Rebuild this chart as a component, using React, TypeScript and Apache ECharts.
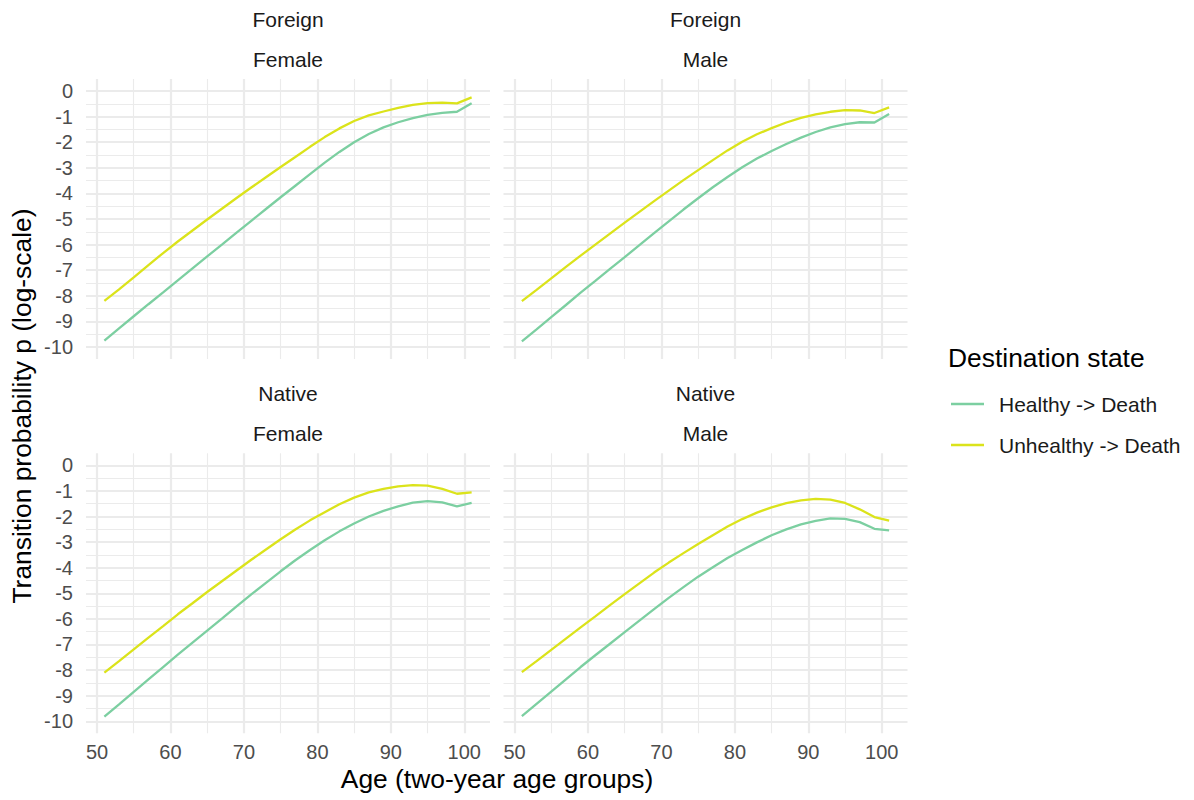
import React, { useEffect, useRef } from "react";
import * as echarts from "echarts";

const AGES = [51, 53, 55, 57, 59, 61, 63, 65, 67, 69, 71, 73, 75, 77, 79, 81, 83, 85, 87, 89, 91, 93, 95, 97, 99, 101];

// log-scale transition probabilities
const FOREIGN_FEMALE_HEALTHY = [-9.75, -9.27, -8.8, -8.33, -7.87, -7.4, -6.93, -6.46, -6.0, -5.53, -5.07, -4.61, -4.15, -3.7, -3.25, -2.8, -2.38, -2.0, -1.68, -1.42, -1.22, -1.06, -0.93, -0.85, -0.81, -0.48];
const FOREIGN_FEMALE_UNHEALTHY = [-8.2, -7.75, -7.28, -6.8, -6.33, -5.88, -5.45, -5.02, -4.6, -4.18, -3.77, -3.37, -2.97, -2.58, -2.18, -1.8, -1.46, -1.17, -0.95, -0.8, -0.66, -0.54, -0.47, -0.45, -0.48, -0.25];
const FOREIGN_MALE_HEALTHY = [-9.78, -9.31, -8.83, -8.36, -7.88, -7.42, -6.95, -6.49, -6.02, -5.55, -5.09, -4.63, -4.19, -3.76, -3.36, -2.98, -2.64, -2.34, -2.07, -1.82, -1.6, -1.42, -1.29, -1.22, -1.23, -0.9];
const FOREIGN_MALE_UNHEALTHY = [-8.21, -7.77, -7.32, -6.87, -6.43, -6.0, -5.57, -5.14, -4.72, -4.3, -3.89, -3.48, -3.09, -2.7, -2.32, -1.98, -1.69, -1.45, -1.23, -1.05, -0.91, -0.81, -0.75, -0.76, -0.86, -0.64];
const NATIVE_FEMALE_HEALTHY = [-9.82, -9.34, -8.85, -8.36, -7.88, -7.4, -6.93, -6.46, -5.99, -5.51, -5.04, -4.59, -4.14, -3.71, -3.31, -2.93, -2.58, -2.27, -2.0, -1.78, -1.6, -1.46, -1.4, -1.45, -1.6, -1.47];
const NATIVE_FEMALE_UNHEALTHY = [-8.1, -7.65, -7.19, -6.73, -6.28, -5.82, -5.39, -4.95, -4.53, -4.11, -3.69, -3.29, -2.89, -2.51, -2.15, -1.83, -1.52, -1.26, -1.06, -0.92, -0.82, -0.77, -0.79, -0.92, -1.11, -1.06];
const NATIVE_MALE_HEALTHY = [-9.8, -9.32, -8.84, -8.36, -7.88, -7.42, -6.97, -6.52, -6.07, -5.62, -5.18, -4.76, -4.35, -3.98, -3.62, -3.31, -3.01, -2.73, -2.5, -2.31, -2.17, -2.07, -2.09, -2.22, -2.48, -2.54];
const NATIVE_MALE_UNHEALTHY = [-8.08, -7.65, -7.21, -6.77, -6.33, -5.9, -5.46, -5.03, -4.61, -4.19, -3.8, -3.43, -3.07, -2.73, -2.39, -2.1, -1.85, -1.64, -1.48, -1.37, -1.31, -1.34, -1.47, -1.72, -2.02, -2.16];

const STRIP_TOP = ["Foreign", "Foreign", "Native", "Native"];
const STRIP_BOTTOM = ["Female", "Male", "Female", "Male"];
const SERIES_NAMES = ["Healthy -> Death", "Unhealthy -> Death"];
const X_MAJOR = [50, 60, 70, 80, 90, 100];
const X_MINOR = [55, 65, 75, 85, 95];
const Y_MAJOR = [0, -1, -2, -3, -4, -5, -6, -7, -8, -9, -10];
const Y_MINOR = [-0.5, -1.5, -2.5, -3.5, -4.5, -5.5, -6.5, -7.5, -8.5, -9.5];

const COLORS = ["#7ccfa1", "#dbe31b"];
const FONT = "'Liberation Sans', Arial, Helvetica, sans-serif";

const PANELS = [
  { left: 86, top: 79, healthy: FOREIGN_FEMALE_HEALTHY, unhealthy: FOREIGN_FEMALE_UNHEALTHY },
  { left: 503.5, top: 79, healthy: FOREIGN_MALE_HEALTHY, unhealthy: FOREIGN_MALE_UNHEALTHY },
  { left: 86, top: 453.3, healthy: NATIVE_FEMALE_HEALTHY, unhealthy: NATIVE_FEMALE_UNHEALTHY },
  { left: 503.5, top: 453.3, healthy: NATIVE_MALE_HEALTHY, unhealthy: NATIVE_MALE_UNHEALTHY },
];
const PW = 404;
const PH = 280;

export default function App() {
  const ref = useRef<HTMLDivElement>(null);
  useEffect(() => {
    if (!ref.current) return;
    const chart = echarts.init(ref.current, undefined, { renderer: "svg" });
    const grids: any[] = [];
    const xAxes: any[] = [];
    const yAxes: any[] = [];
    const series: any[] = [];
    const graphics: any[] = [];
    const major = { color: "#EBEBEB", width: 2.2, type: "solid" };
    const minor = { color: "#EBEBEB", width: 1.1, type: "solid" };
    PANELS.forEach((p, i) => {
      grids.push({ left: p.left, top: p.top, width: PW, height: PH, containLabel: false });
      const bottomRow = i >= 2;
      const leftCol = i % 2 === 0;
      xAxes.push({
        type: "value",
        gridIndex: i,
        min: 48.5,
        max: 103.5,
        splitNumber: 5,
        axisLine: { show: false },
        axisTick: { show: false },
        splitLine: { show: false },
        axisLabel: {
          show: bottomRow,
          margin: 9,
          color: "#4D4D4D",
          fontSize: 20,
          fontFamily: FONT,
          showMinLabel: false,
          showMaxLabel: false,
          formatter: (v: number) => (Math.abs(v % 10) < 1e-6 ? String(v) : ""),
        },
      });
      yAxes.push({
        type: "value",
        gridIndex: i,
        min: -10.47,
        max: 0.47,
        splitNumber: 11,
        axisLine: { show: false },
        axisTick: { show: false },
        splitLine: { show: false },
        axisLabel: {
          show: leftCol,
          margin: 13,
          color: "#4D4D4D",
          fontSize: 20,
          fontFamily: FONT,
          showMinLabel: false,
          showMaxLabel: false,
          formatter: (v: number) =>
            Math.abs(v - Math.round(v)) < 1e-6 ? String(Math.round(v) === 0 ? 0 : Math.round(v)) : "",
        },
      });
      const ml: any[] = [];
      X_MINOR.forEach((x) => ml.push({ xAxis: x, lineStyle: minor }));
      Y_MINOR.forEach((y) => ml.push({ yAxis: y, lineStyle: minor }));
      X_MAJOR.forEach((x) => ml.push({ xAxis: x, lineStyle: major }));
      Y_MAJOR.forEach((y) => ml.push({ yAxis: y, lineStyle: major }));
      series.push({
        type: "line",
        name: "grid" + i,
        xAxisIndex: i,
        yAxisIndex: i,
        data: [],
        z: 0,
        silent: true,
        markLine: {
          silent: true,
          z: 0,
          symbol: ["none", "none"],
          label: { show: false },
          emphasis: { disabled: true },
          animation: false,
          data: ml,
        },
      });
      [p.healthy, p.unhealthy].forEach((vals, k) => {
        series.push({
          type: "line",
          name: SERIES_NAMES[k],
          xAxisIndex: i,
          yAxisIndex: i,
          z: 5,
          showSymbol: false,
          symbol: "none",
          color: COLORS[k],
          lineStyle: { color: COLORS[k], width: 2.3 },
          data: AGES.map((a, j) => [a, vals[j]]),
        });
      });
      const cx = p.left + PW / 2;
      graphics.push({
        type: "text",
        x: cx,
        y: p.top - 60,
        style: { text: STRIP_TOP[i], fill: "#1A1A1A", fontSize: 21, fontFamily: FONT, align: "center", verticalAlign: "middle" },
      });
      graphics.push({
        type: "text",
        x: cx,
        y: p.top - 20,
        style: { text: STRIP_BOTTOM[i], fill: "#1A1A1A", fontSize: 21, fontFamily: FONT, align: "center", verticalAlign: "middle" },
      });
    });
    graphics.push({
      type: "text",
      x: 497,
      y: 779,
      style: { text: "Age (two-year age groups)", fill: "#000", fontSize: 26.4, fontFamily: FONT, align: "center", verticalAlign: "middle" },
    });
    graphics.push({
      type: "text",
      x: 22,
      y: 406,
      rotation: Math.PI / 2,
      style: { text: "Transition probability p (log-scale)", fill: "#000", fontSize: 26.4, fontFamily: FONT, align: "center", verticalAlign: "middle" },
    });
    graphics.push({
      type: "text",
      x: 948,
      y: 358,
      style: { text: "Destination state", fill: "#000", fontSize: 26.4, fontFamily: FONT, align: "left", verticalAlign: "middle" },
    });
    chart.setOption({
      animation: false,
      grid: grids,
      xAxis: xAxes,
      yAxis: yAxes,
      series,
      graphic: graphics,
      legend: {
        data: SERIES_NAMES,
        orient: "vertical",
        left: 951,
        top: 392,
        padding: 0,
        icon: "rect",
        itemWidth: 33,
        itemHeight: 2.4,
        itemGap: 17,
        selectedMode: false,
        textStyle: { fontSize: 21, fontFamily: FONT, color: "#1A1A1A", lineHeight: 24, padding: [0, 0, 0, 10] },
      },
    });
    return () => chart.dispose();
  }, []);
  return <div ref={ref} style={{ position: "absolute", left: 0, top: 0, width: 1194, height: 800 }} />;
}
